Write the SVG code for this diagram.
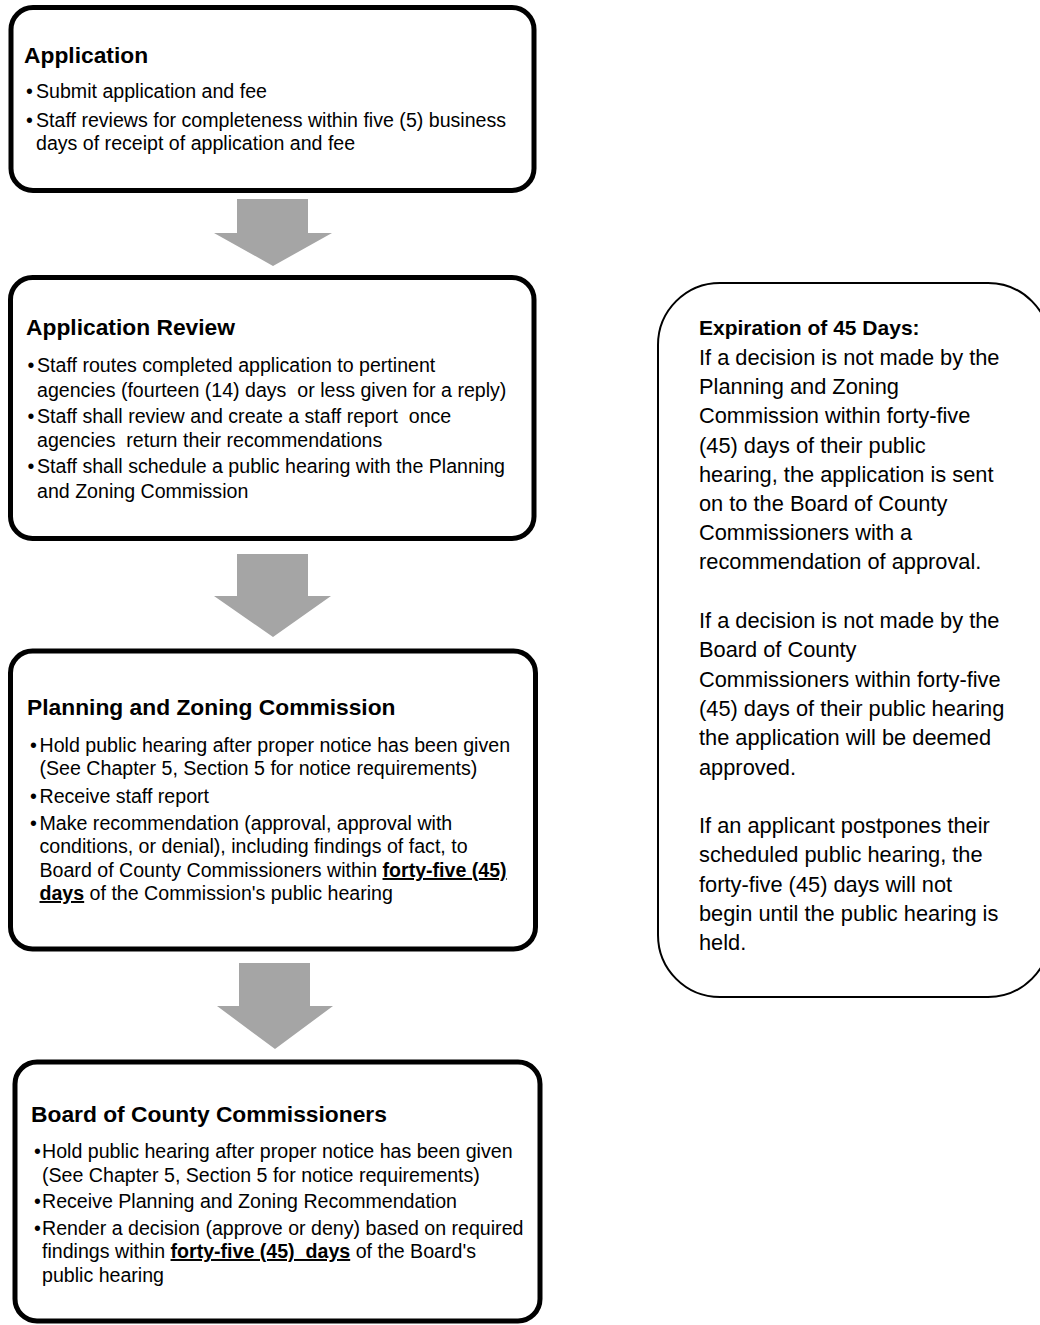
<svg xmlns="http://www.w3.org/2000/svg" width="1040" height="1325" viewBox="0 0 1040 1325" xml:space="preserve">
<style>
  .box { fill: #ffffff; stroke: #000000; stroke-width: 5; }
  .note { fill: #ffffff; stroke: #000000; stroke-width: 2; }
  .arrow { fill: #a5a5a5; stroke: none; }
  text { font-family: "Liberation Sans", Arial, sans-serif; fill: #000000; white-space: pre; }
  .title { font-size: 22.8px; font-weight: bold; }
  .body { font-size: 19.6px; }
  .nbody { font-size: 21.8px; }
  .ntitle { font-size: 21px; font-weight: bold; }
  .bu { font-weight: bold; text-decoration: underline; }
</style>
<rect width="1040" height="1325" fill="#ffffff"/>

<g id="connectors">
  <polygon class="arrow" points="237,199 308,199 308,233 332,233 273,266 214,233 237,233"/>
  <polygon class="arrow" points="237,554 308,554 308,596 331,596 273,637 214,596 237,596"/>
  <polygon class="arrow" points="239,963 310,963 310,1006 333,1006 275,1049 217,1006 239,1006"/>
</g>

<g id="node-application">
  <rect class="box" x="11" y="7.5" width="523" height="183" rx="22"/>
  <text class="title" x="24" y="63">Application</text>
  <text class="body" x="26" y="98">•</text>
  <text class="body" x="36" y="98">Submit application and fee</text>
  <text class="body" x="26" y="127">•</text>
  <text class="body" x="36" y="127">Staff reviews for completeness within five (5) business</text>
  <text class="body" x="36" y="150">days of receipt of application and fee</text>
</g>

<g id="node-application-review">
  <rect class="box" x="10.5" y="277.5" width="523.5" height="261" rx="22"/>
  <text class="title" x="26" y="335">Application Review</text>
  <text class="body" x="27.5" y="372">•</text>
  <text class="body" x="37" y="372">Staff routes completed application to pertinent</text>
  <text class="body" x="37" y="397">agencies (fourteen (14) days  or less given for a reply)</text>
  <text class="body" x="27.5" y="423">•</text>
  <text class="body" x="37" y="423">Staff shall review and create a staff report  once</text>
  <text class="body" x="37" y="447">agencies  return their recommendations</text>
  <text class="body" x="27.5" y="473">•</text>
  <text class="body" x="37" y="473">Staff shall schedule a public hearing with the Planning</text>
  <text class="body" x="37" y="498">and Zoning Commission</text>
</g>

<g id="node-planning-zoning">
  <rect class="box" x="10.5" y="651" width="525" height="298" rx="22"/>
  <text class="title" x="27" y="715">Planning and Zoning Commission</text>
  <text class="body" x="30" y="752">•</text>
  <text class="body" x="39.5" y="752">Hold public hearing after proper notice has been given</text>
  <text class="body" x="39.5" y="775">(See Chapter 5, Section 5 for notice requirements)</text>
  <text class="body" x="30" y="803">•</text>
  <text class="body" x="39.5" y="803">Receive staff report</text>
  <text class="body" x="30" y="830">•</text>
  <text class="body" x="39.5" y="830">Make recommendation (approval, approval with</text>
  <text class="body" x="39.5" y="853">conditions, or denial), including findings of fact, to</text>
  <text class="body" x="39.5" y="877">Board of County Commissioners within <tspan class="bu">forty-five (45)</tspan></text>
  <text class="body" x="39.5" y="900"><tspan class="bu">days</tspan> of the Commission's public hearing</text>
</g>

<g id="node-board">
  <rect class="box" x="15" y="1062" width="525" height="259" rx="22"/>
  <text class="title" x="31" y="1122">Board of County Commissioners</text>
  <text class="body" x="34" y="1158">•</text>
  <text class="body" x="42" y="1158">Hold public hearing after proper notice has been given</text>
  <text class="body" x="42" y="1182">(See Chapter 5, Section 5 for notice requirements)</text>
  <text class="body" x="34" y="1208">•</text>
  <text class="body" x="42" y="1208">Receive Planning and Zoning Recommendation</text>
  <text class="body" x="34" y="1235">•</text>
  <text class="body" x="42" y="1235">Render a decision (approve or deny) based on required</text>
  <text class="body" x="42" y="1258">findings within <tspan class="bu">forty-five (45)  days</tspan> of the Board's</text>
  <text class="body" x="42" y="1282">public hearing</text>
</g>

<g id="node-expiration">
  <rect class="note" x="658" y="283" width="392" height="714" rx="62"/>
  <text class="ntitle" x="699" y="335">Expiration of 45 Days:</text>
  <text class="nbody" x="699" y="365">If a decision is not made by the</text>
  <text class="nbody" x="699" y="394">Planning and Zoning</text>
  <text class="nbody" x="699" y="423">Commission within forty-five</text>
  <text class="nbody" x="699" y="453">(45) days of their public</text>
  <text class="nbody" x="699" y="482">hearing, the application is sent</text>
  <text class="nbody" x="699" y="511">on to the Board of County</text>
  <text class="nbody" x="699" y="540">Commissioners with a</text>
  <text class="nbody" x="699" y="569">recommendation of approval.</text>
  <text class="nbody" x="699" y="628">If a decision is not made by the</text>
  <text class="nbody" x="699" y="657">Board of County</text>
  <text class="nbody" x="699" y="687">Commissioners within forty-five</text>
  <text class="nbody" x="699" y="716">(45) days of their public hearing</text>
  <text class="nbody" x="699" y="745">the application will be deemed</text>
  <text class="nbody" x="699" y="775">approved.</text>
  <text class="nbody" x="699" y="833">If an applicant postpones their</text>
  <text class="nbody" x="699" y="862">scheduled public hearing, the</text>
  <text class="nbody" x="699" y="892">forty-five (45) days will not</text>
  <text class="nbody" x="699" y="921">begin until the public hearing is</text>
  <text class="nbody" x="699" y="950">held.</text>
</g>
</svg>
